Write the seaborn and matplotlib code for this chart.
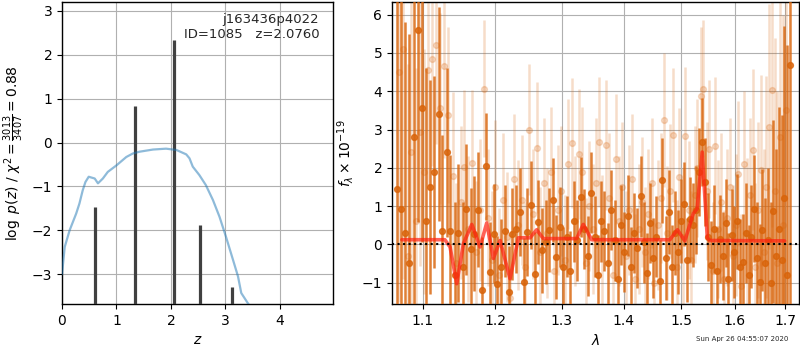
import numpy as np
import pandas as pd
import matplotlib
matplotlib.use("Agg")
import matplotlib.pyplot as plt
import matplotlib.ticker as mticker
import seaborn as sns

# ---------------- data ----------------
# p(z) curve (coarse grid)
pz_z = [0.00, 0.05, 0.14, 0.26, 0.32, 0.38, 0.43, 0.49, 0.60, 0.66, 0.75, 0.84,
        1.00, 1.18, 1.30, 1.42, 1.67, 1.91, 2.10, 2.28, 2.34, 2.40, 2.52, 2.64,
        2.77, 2.89, 3.01, 3.14, 3.23, 3.29, 3.41, 3.46]
pz_logp = [-3.00, -2.38, -2.00, -1.62, -1.39, -1.09, -0.90, -0.78, -0.82, -0.93,
           -0.82, -0.67, -0.52, -0.33, -0.25, -0.21, -0.16, -0.14, -0.17, -0.27,
           -0.36, -0.55, -0.74, -0.97, -1.31, -1.69, -2.15, -2.68, -3.05, -3.43,
           -3.66, -3.75]
# fine-grid peaks
peak_z = [0.605, 1.335, 2.06, 2.535, 3.115]
peak_logp = [-1.48, 0.83, 2.33, -1.87, -3.30]

# spectrum, first set (dark)
wave_a = [1.066, 1.071, 1.077, 1.082, 1.088, 1.093, 1.099, 1.104, 1.110, 1.115,
          1.121, 1.126, 1.132, 1.137, 1.143, 1.148, 1.154, 1.159, 1.165, 1.170,
          1.176, 1.181, 1.187, 1.192, 1.198, 1.203, 1.209, 1.214, 1.220, 1.225,
          1.231, 1.236, 1.242, 1.247, 1.253, 1.258, 1.264, 1.269, 1.275, 1.280,
          1.286, 1.291, 1.297, 1.302, 1.308, 1.313, 1.319, 1.324, 1.330, 1.335,
          1.341, 1.346, 1.352, 1.357, 1.363, 1.368, 1.374, 1.379, 1.385, 1.390,
          1.396, 1.401, 1.407, 1.412, 1.418, 1.423, 1.429, 1.434, 1.440, 1.445,
          1.451, 1.456, 1.462, 1.467, 1.473, 1.478, 1.484, 1.489, 1.495, 1.500,
          1.506, 1.511, 1.517, 1.522, 1.528, 1.533, 1.539, 1.544, 1.550, 1.555,
          1.561, 1.566, 1.572, 1.577, 1.583, 1.588, 1.594, 1.599, 1.605, 1.610,
          1.616, 1.621, 1.627, 1.632, 1.638, 1.643, 1.649, 1.654, 1.660, 1.665,
          1.671, 1.676, 1.682, 1.687, 1.693, 1.698, 1.704, 1.710]
flux_a = [1.45, 0.93, 0.30, -0.50, 2.80, 5.59, 3.55, 0.60, 1.50, 1.89,
          3.41, 0.35, 2.40, 0.34, -0.80, 0.30, -0.59, 0.91, -0.12, 0.28,
          0.90, -1.20, 2.04, -0.72, 0.28, -1.03, -0.59, 0.35, -1.25, 0.28,
          0.40, 0.85, -0.98, 0.32, 1.02, -0.78, 0.58, -0.16, 0.06, 0.37,
          1.15, -0.33, 0.45, -0.59, 0.20, -0.70, 0.60, 0.10, 1.24, 0.40,
          -0.30, 1.35, 0.20, -0.80, 0.60, 0.35, -0.50, 0.90, 0.10, -0.90,
          0.50, -0.20, 0.75, -0.60, 0.30, -0.10, 1.25, 0.05, -0.75, 0.55,
          -0.35, 0.20, -0.95, 1.67, -0.35, 0.85, -0.59, 0.30, -0.20, 0.60,
          1.06, -0.40, 0.65, 0.50, 0.90, 1.90, 2.67, 1.63, 0.20, -0.55,
          0.40, -0.70, 0.15, -0.30, 0.55, -0.90, 0.25, -0.20, 0.60, -0.60,
          -0.46, 0.30, -0.80, 0.20, 0.93, -0.35, -0.98, 0.37, -0.50, 0.10,
          -1.00, 0.86, -0.30, 0.40, -0.42, 1.20, -0.80, 4.69]
err_a = [6.0, 6.5, 5.5, 6.0, 4.5, 5.0, 3.5, 4.0, 2.8, 2.5,
         2.8, 2.5, 2.2, 2.0, 1.9, 1.8, 1.7, 1.7, 1.6, 1.5,
         1.5, 1.4, 1.4, 1.3, 1.3, 1.25, 1.25, 1.2, 1.2, 1.2,
         1.15, 1.15, 1.15, 1.15, 1.15, 1.1, 1.1, 1.1, 1.1, 1.1,
         1.1, 1.1, 1.05, 1.05, 1.05, 1.05, 1.05, 1.05, 1.05, 1.05,
         1.05, 1.05, 1.05, 1.05, 1.05, 1.05, 1.05, 1.05, 1.05, 1.05,
         1.05, 1.05, 1.05, 1.05, 1.05, 1.05, 1.05, 1.05, 1.05, 1.05,
         1.05, 1.05, 1.05, 1.1, 1.1, 1.1, 1.1, 1.1, 1.1, 1.1,
         1.1, 1.1, 1.1, 1.1, 1.15, 1.15, 1.15, 1.15, 1.15, 1.15,
         1.15, 1.15, 1.15, 1.15, 1.15, 1.2, 1.2, 1.2, 1.25, 1.25,
         1.25, 1.3, 1.3, 1.35, 1.4, 1.45, 1.5, 1.6, 1.7, 1.9,
         2.1, 2.4, 2.8, 3.2, 3.8, 4.5, 6.0, 7.0]

# spectrum, second set (light)
wave_b = [1.069, 1.074, 1.080, 1.085, 1.091, 1.096, 1.102, 1.107, 1.112, 1.118,
          1.123, 1.129, 1.134, 1.140, 1.145, 1.151, 1.156, 1.162, 1.167, 1.173,
          1.178, 1.184, 1.189, 1.195, 1.200, 1.206, 1.211, 1.217, 1.222, 1.228,
          1.233, 1.239, 1.244, 1.250, 1.255, 1.261, 1.266, 1.272, 1.277, 1.283,
          1.288, 1.294, 1.299, 1.305, 1.310, 1.316, 1.321, 1.327, 1.332, 1.338,
          1.343, 1.349, 1.354, 1.360, 1.365, 1.371, 1.376, 1.382, 1.387, 1.393,
          1.398, 1.404, 1.409, 1.415, 1.420, 1.426, 1.431, 1.437, 1.442, 1.448,
          1.453, 1.459, 1.464, 1.470, 1.475, 1.481, 1.486, 1.492, 1.497, 1.503,
          1.508, 1.514, 1.519, 1.525, 1.530, 1.536, 1.541, 1.547, 1.552, 1.558,
          1.563, 1.569, 1.574, 1.580, 1.585, 1.591, 1.596, 1.602, 1.607, 1.613,
          1.618, 1.624, 1.629, 1.635, 1.640, 1.646, 1.651, 1.657, 1.662, 1.668,
          1.673, 1.679, 1.684, 1.690, 1.695, 1.701]
flux_b = [4.50, 5.10, -0.30, 2.40, 0.60, 2.93, 1.90, 4.55, 4.85, 5.22,
          3.55, 4.66, 3.39, 1.78, -0.50, 1.10, 2.02, 0.40, 2.13, -0.20,
          0.90, 4.07, 0.70, -0.40, 1.50, -0.80, 1.15, 0.20, -1.40, 1.70,
          0.50, 1.15, -0.60, 3.00, 0.80, 2.53, -0.20, 1.60, 0.30, 1.90,
          -0.70, 0.90, 1.40, -0.40, 2.10, 2.65, 0.60, 2.37, 1.90, -0.50,
          1.00, 0.40, 1.60, 2.67, 0.10, 2.60, 1.20, -0.80, 2.24, 0.60,
          1.50, -0.30, 0.90, 1.70, -0.90, 0.40, 1.10, -0.20, 0.80, 1.60,
          -1.00, 0.50, 1.20, 3.24, 0.30, 1.40, 2.85, -0.60, 1.75, 0.20,
          2.83, 0.90, -0.40, 1.30, 2.00, 3.87, 4.07, 1.40, 2.50, -0.70,
          2.58, 0.40, 1.10, -0.90, 0.70, 1.50, -0.30, 0.50, 1.85, -1.10,
          2.10, 0.30, 1.30, 2.47, -0.60, 0.90, 1.93, -0.20, 1.50, 3.07,
          4.04, 1.40, -0.50, 2.80, 0.50, 3.50]
err_b = [6.0, 6.0, 5.0, 4.5, 4.0, 3.5, 3.2, 3.0, 2.8, 2.6,
         2.5, 2.4, 2.3, 2.2, 2.1, 2.0, 2.0, 1.9, 1.9, 1.85,
         1.85, 1.8, 1.8, 1.8, 1.75, 1.75, 1.75, 1.7, 1.7, 1.7,
         1.7, 1.7, 1.7, 1.7, 1.7, 1.7, 1.7, 1.7, 1.7, 1.7,
         1.7, 1.7, 1.7, 1.7, 1.7, 1.7, 1.7, 1.7, 1.7, 1.7,
         1.7, 1.7, 1.7, 1.7, 1.7, 1.7, 1.7, 1.7, 1.7, 1.7,
         1.7, 1.7, 1.7, 1.7, 1.7, 1.7, 1.7, 1.7, 1.7, 1.7,
         1.7, 1.7, 1.7, 1.75, 1.75, 1.75, 1.75, 1.75, 1.8, 1.8,
         1.8, 1.8, 1.8, 1.8, 1.8, 1.8, 1.8, 1.8, 1.8, 1.8,
         1.8, 1.8, 1.8, 1.8, 1.8, 1.8, 1.85, 1.85, 1.9, 1.9,
         1.9, 1.95, 2.0, 2.1, 2.2, 2.3, 2.5, 2.7, 2.9, 3.2,
         3.6, 4.0, 4.5, 5.0, 5.5, 6.0]

# best-fit model
model_wave = [1.0726, 1.1295, 1.1366, 1.1457, 1.1550, 1.1667, 1.1783, 1.1878,
              1.1973, 1.2070, 1.2215, 1.2338, 1.2512, 1.2612, 1.2714, 1.3233,
              1.3339, 1.3474, 1.4801, 1.4937, 1.5070, 1.5222, 1.5295, 1.5388,
              1.5482, 1.5529, 1.6990]
model_flux = [0.12, 0.12, -0.07, -1.03, 0.02, 0.52, -0.07, 0.56,
              -0.37, 0.10, -0.90, 0.17, 0.17, 0.38, 0.15, 0.15,
              0.52, 0.12, 0.12, 0.38, 0.09, 0.80, 0.93, 2.41,
              0.17, 0.10, 0.09]

z_ticks = [0, 1, 2, 3, 4]
lam_ticks = [1.1, 1.2, 1.3, 1.4, 1.5, 1.6, 1.7]
lam_labels = ['1.1', '1.2', '1.3', '1.4', '1.5', '1.6', '1.7']
title_text = 'j163436p4022\nID=1085   z=2.0760'
stamp_text = 'Sun Apr 26 04:55:07 2020'

# ---------------- plot ----------------
sns.set_style('ticks', {'axes.grid': True})
plt.rcParams['font.family'] = ['DejaVu Sans']
plt.rcParams['grid.color'] = '#b0b0b0'
plt.rcParams['grid.linewidth'] = 0.8
plt.rcParams['axes.edgecolor'] = 'black'
plt.rcParams['xtick.color'] = 'black'
plt.rcParams['ytick.color'] = 'black'
plt.rcParams['axes.labelcolor'] = 'black'

fig = plt.figure(figsize=(8, 3.5), dpi=100)
ax1 = fig.add_axes([0.0775, 0.1314, 0.3385, 0.8626])
ax2 = fig.add_axes([0.49, 0.1314, 0.509, 0.8626])

# left panel
ybot = -3.68
ax1.vlines(peak_z, ybot - 1, peak_logp, color='#404040', lw=2.3, zorder=3)
sns.lineplot(x=pz_z, y=pz_logp, ax=ax1, color='#1f77b4', alpha=0.5, lw=1.6,
             estimator=None, sort=False, zorder=4)
ax1.set_xlim(0, 4.97)
ax1.set_ylim(ybot, 3.2)
ax1.set_xticks(z_ticks)
ax1.set_yticks([-3, -2, -1, 0, 1, 2, 3])
ax1.set_xlabel(r'$z$')
ax1.set_ylabel(r'$\log\ p(z)$' + ' / ' + r'$\chi^2=\frac{3013}{3407}=0.88$')
ax1.text(0.95, 0.965, title_text, ha='right', va='top', transform=ax1.transAxes,
         fontsize=9.5, linespacing=1.2)
ax1.grid(True)

# right panel
col = '#d9640a'
ax2.errorbar(wave_b, flux_b, yerr=err_b, color=col, alpha=0.22, marker='o',
             ms=4.2, linestyle='None', elinewidth=1.8, zorder=2)
ax2.errorbar(wave_a, flux_a, yerr=err_a, color=col, alpha=0.82, marker='o',
             ms=4.2, linestyle='None', elinewidth=1.8, zorder=3)
sns.lineplot(x=model_wave, y=model_flux, ax=ax2, color='#ff2010', alpha=0.7,
             lw=2.6, estimator=None, sort=False, zorder=5)
ax2.axhline(0, color='black', ls=':', lw=1.5, zorder=6)
ax2.set_xscale('log')
ax2.set_xlim(1.06, 1.729)
ax2.set_ylim(-1.56, 6.33)
ax2.xaxis.set_major_locator(mticker.FixedLocator(lam_ticks))
ax2.xaxis.set_major_formatter(mticker.FixedFormatter(lam_labels))
ax2.xaxis.set_minor_locator(mticker.NullLocator())
ax2.set_yticks([-1, 0, 1, 2, 3, 4, 5, 6])
ax2.set_xlabel(r'$\lambda$')
ax2.set_ylabel(r'$f_\lambda\times10^{-19}$')
ax2.grid(True)

for ax in (ax1, ax2):
    for s in ax.spines.values():
        s.set_visible(True)
        s.set_color('black')
        s.set_linewidth(1.0)
    ax.tick_params(direction='out', length=3.5, width=0.8, labelsize=10)

fig.text(0.985, 0.031, stamp_text, ha='right', va='center', fontsize=5)

fig.savefig('out.png', dpi=100)
